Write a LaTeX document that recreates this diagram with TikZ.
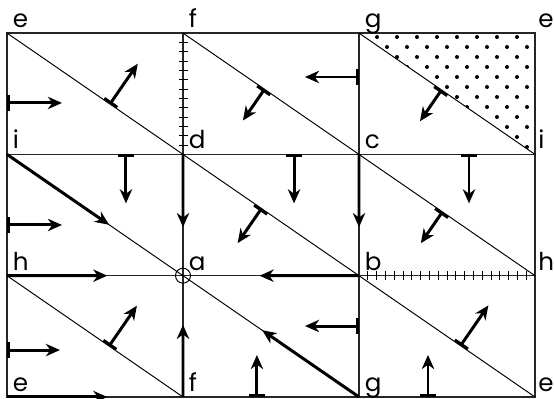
\documentclass[tikz,border=0pt]{standalone}
\usepackage{fontspec}
\setmainfont{Poppins}
\usetikzlibrary{arrows.meta,calc}

\tikzset{
  gridline/.style={black!85,line width=0.8pt},
  diagline/.style={black,line width=0.55pt},
  edgearrow/.style={line width=1.7pt,-{Stealth[length=8pt,width=7pt,inset=2.5pt]}},
  bararrow/.style={line width=1.7pt,{Bar[width=9pt]}-{Stealth[length=8pt,width=7pt,inset=2.5pt]}},
  ptlabel/.style={anchor=base west,inner sep=0pt,xshift=0.11cm,yshift=0.11cm,font=\fontsize{14}{16}\selectfont},
  ptlabelr/.style={ptlabel,xshift=-0.05cm},
}

\begin{document}
\begin{tikzpicture}[x=3.52cm,y=2.426cm]
  \useasboundingbox (-0.14cm,-0.04cm) rectangle (10.94cm,7.94cm);

  \coordinate (E1) at (0,3);
  \coordinate (F1) at (1,3);
  \coordinate (G1) at (2,3);
  \coordinate (E2) at (3,3);
  \coordinate (I1) at (0,2);
  \coordinate (D) at (1,2);
  \coordinate (C) at (2,2);
  \coordinate (I2) at (3,2);
  \coordinate (H1) at (0,1);
  \coordinate (A) at (1,1);
  \coordinate (B) at (2,1);
  \coordinate (H2) at (3,1);
  \coordinate (E3) at (0,0);
  \coordinate (F2) at (1,0);
  \coordinate (G2) at (2,0);
  \coordinate (E4) at (3,0);

  % dotted triangle g-e-i
  \begin{scope}
    \clip (G1) -- (E2) -- (I2) -- cycle;
    \foreach \j in {0,...,11}
      \foreach \i in {0,...,8}
        \fill ({7.4cm+0.2cm*mod(\j,2)+0.4cm*\i},{7.2cm-0.2cm*\j}) circle (0.04cm);
  \end{scope}

  \draw[gridline] (E3) rectangle (E2);
  \draw[gridline] (I1) -- (I2);
  \draw[gridline] (H1) -- (H2);
  \draw[gridline] (F1) -- (F2);
  \draw[gridline] (G1) -- (G2);

  \draw[diagline] (E1) -- (D);
  \draw[diagline] (F1) -- (C);
  \draw[diagline] (G1) -- (I2);
  \draw[diagline] (I1) -- (A);
  \draw[diagline] (D) -- (B);
  \draw[diagline] (C) -- (H2);
  \draw[diagline] (H1) -- (F2);
  \draw[diagline] (A) -- (G2);
  \draw[diagline] (B) -- (E4);

  \foreach \k in {1,...,12}
    \draw[diagline] ($(D)!\k/13!(F1)$) ++(-0.09cm,0) -- ++(0.18cm,0);
  \foreach \k in {1,...,19}
    \draw[diagline] ($(B)!\k/20!(H2)$) ++(0,-0.09cm) -- ++(0,0.18cm);
  \draw[diagline] (A) circle (0.15cm);

  \draw[edgearrow] (I1) -- ($(I1)!0.58!(A)$);
  \draw[edgearrow] (D) -- ($(D)!0.6!(A)$);
  \draw[edgearrow] (C) -- ($(C)!0.6!(B)$);
  \draw[edgearrow] (H1) -- ($(H1)!0.57!(A)$);
  \draw[edgearrow] (B) -- ($(B)!0.565!(A)$);
  \draw[edgearrow] (E3) -- ($(E3)!0.57!(F2)$);
  \draw[edgearrow] (F2) -- ($(F2)!0.595!(A)$);
  \draw[edgearrow] (G2) -- ($(G2)!0.55!(A)$);

  \draw[bararrow] ($(I1)!0.424!(E1)$) -- ++(1.1cm,0);
  \draw[bararrow] ($(E1)!0.585!(D)$) -- ++(55.4:0.98cm);
  \draw[bararrow] ($(C)!0.638!(G1)$) -- ++(-1.08cm,0);
  \draw[bararrow] ($(F1)!0.463!(C)$) -- ++(235.4:0.76cm);
  \draw[bararrow] ($(G1)!0.469!(I2)$) -- ++(235.4:0.76cm);

  \draw[bararrow] ($(I1)!0.676!(D)$) -- ++(0,-0.98cm);
  \draw[bararrow] ($(H1)!0.418!(I1)$) -- ++(1.1cm,0);
  \draw[bararrow] ($(D)!0.631!(C)$) -- ++(0,-0.98cm);
  \draw[bararrow] ($(D)!0.446!(B)$) -- ++(235.4:0.84cm);
  \draw[bararrow] ($(C)!0.625!(I2)$) -- ++(0,-0.98cm);
  \draw[bararrow] ($(C)!0.474!(H2)$) -- ++(235.4:0.76cm);

  \draw[bararrow] ($(E3)!0.387!(H1)$) -- ++(1.06cm,0);
  \draw[bararrow] ($(H1)!0.58!(F2)$) -- ++(55.4:0.98cm);
  \draw[bararrow] ($(G2)!0.585!(B)$) -- ++(-1.08cm,0);
  \draw[bararrow] ($(F2)!0.42!(G2)$) -- ++(0,0.84cm);
  \draw[bararrow] ($(G2)!0.392!(E4)$) -- ++(0,0.84cm);
  \draw[bararrow] ($(B)!0.577!(E4)$) -- ++(55.4:0.98cm);

  \node[ptlabel] (le1) at (E1) {e};
  \node[ptlabel] (lf1) at (F1) {f};
  \node[ptlabel] (lg1) at (G1) {g};
  \node[ptlabelr] (le2) at (E2) {e};
  \node[ptlabel] (li1) at (I1) {i};
  \node[ptlabel] (ld) at (D) {d};
  \node[ptlabel] (lc) at (C) {c};
  \node[ptlabelr] (li2) at (I2) {i};
  \node[ptlabel] (lh1) at (H1) {h};
  \node[ptlabel] (la) at (A) {a};
  \node[ptlabel] (lb) at (B) {b};
  \node[ptlabelr] (lh2) at (H2) {h};
  \node[ptlabel] (le3) at (E3) {e};
  \node[ptlabel] (lf2) at (F2) {f};
  \node[ptlabel] (lg2) at (G2) {g};
  \node[ptlabelr] (le4) at (E4) {e};
\end{tikzpicture}
\end{document}
